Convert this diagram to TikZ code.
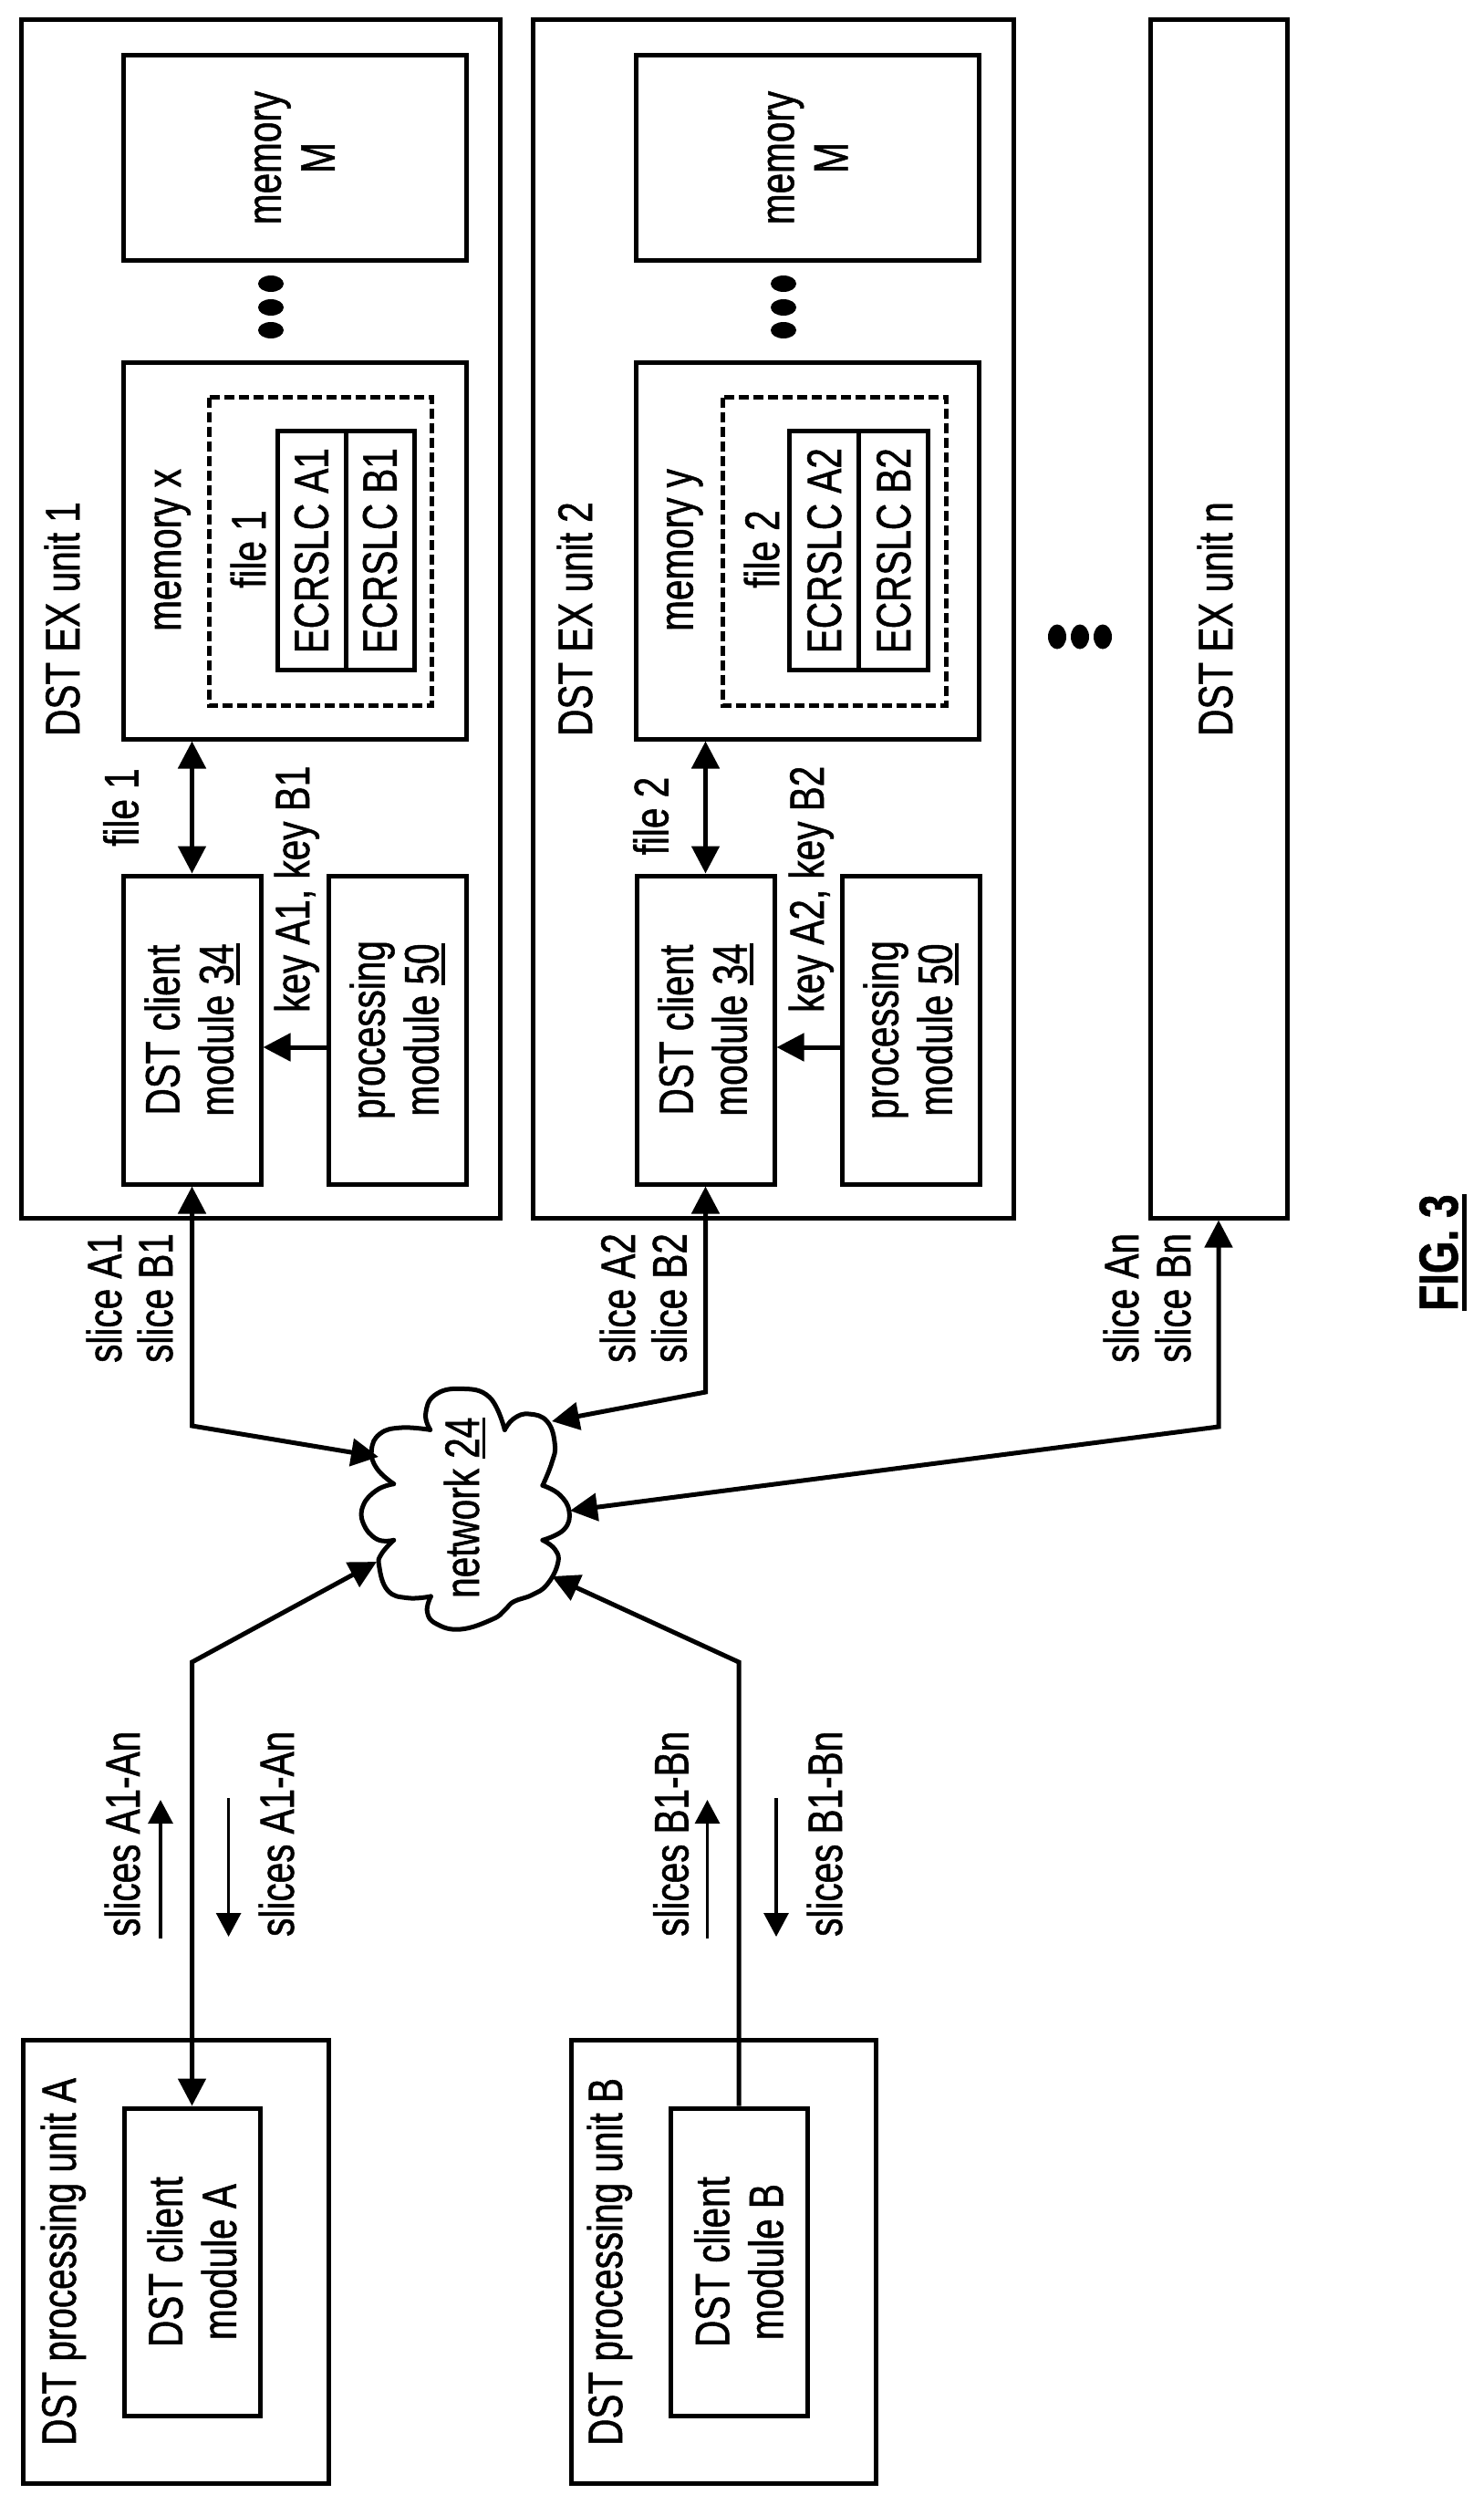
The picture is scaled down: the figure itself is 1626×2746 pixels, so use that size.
\documentclass[tikz,border=0pt]{standalone}
\usepackage{fontspec}
\setmainfont[FakeStretch=0.764,FakeBold=1]{Liberation Sans}
\usetikzlibrary{arrows.meta,shapes.geometric}
\newcommand\ulx[1]{\setbox0=\hbox{#1}\rlap{\rule[-7pt]{\wd0}{3.5pt}}\box0}
\newcommand\ulfig[1]{\setbox0=\hbox{#1}\rlap{\rule[-9.5pt]{\wd0}{5pt}}\box0}
\tikzset{
  base font/.style={font=\fontsize{53}{59}\selectfont},
  bx/.style={draw=black,line width=5pt,inner sep=0pt,rotate=90,align=center,base font},
  dashbx/.style={draw=black,line width=5pt,dash pattern=on 11pt off 5pt,inner sep=0pt,rotate=90},
  lbl/.style={inner sep=0pt,rotate=90,anchor=base west,base font},
  dotn/.style={ellipse,fill=black,inner sep=0pt},
  conn/.style={line width=5pt,line join=miter},
  both/.style={conn,{Triangle[length=30pt,width=30pt]}-{Triangle[length=30pt,width=30pt]}},
  one/.style={conn,-{Triangle[length=30pt,width=30pt]}},
  small/.style={line width=3.2pt,-{Triangle[length=26pt,width=27pt]}},
  cloudline/.style={line width=5pt,line cap=round,line join=round},
}
\begin{document}
\begin{tikzpicture}[x=1pt,y=-1pt]
\useasboundingbox (0,0) rectangle (1626,2746);
\fill[white] (0,0) rectangle (1626,2746);

% --- DST EX unit 1
\node[bx,minimum width=1313pt,minimum height=525pt] (unit1) at (285.5,678.5) {};
\node[bx,minimum width=224.5pt,minimum height=376pt] (memM1) at (323,173) {memory\\M};
\node[bx,minimum width=413pt,minimum height=376pt] (memx) at (323,603.5) {};
\node[dashbx,minimum width=337.4pt,minimum height=244.5pt] (dash1) at (351.25,604.3) {};
\node[bx,minimum width=262pt,minimum height=75pt] (a1) at (341.5,603.6) {ECRSLC A1};
\node[bx,minimum width=262pt,minimum height=75pt] (b1) at (416.5,603.6) {ECRSLC B1};
\node[bx,minimum width=338pt,minimum height=151pt] (client1) at (210.5,1129) {DST client\\module \ulx{34}};
\node[bx,minimum width=338pt,minimum height=151pt] (proc1) at (435.5,1129) {processing\\module \ulx{50}};
\node[lbl] (t1) at (87,807) {DST EX unit 1};
\node[lbl] (mx) at (198,692) {memory x};
\node[lbl] (f1i) at (291,645) {file 1};
\node[lbl] (f1o) at (151.5,928) {file 1};
\node[lbl] (k1) at (339,1110) {key A1, key B1};
\node[dotn,minimum width=28pt,minimum height=18pt] (d11) at (297,311) {};
\node[dotn,minimum width=28pt,minimum height=18pt] (d12) at (297,337) {};
\node[dotn,minimum width=28pt,minimum height=18pt] (d13) at (297,362) {};

% --- DST EX unit 2
\node[bx,minimum width=1313pt,minimum height=527pt] (unit2) at (847.5,678.5) {};
\node[bx,minimum width=224.5pt,minimum height=376pt] (memM2) at (885.5,173) {memory\\M};
\node[bx,minimum width=413pt,minimum height=376pt] (memy) at (885.5,603.5) {};
\node[dashbx,minimum width=337.4pt,minimum height=245pt] (dash2) at (914.5,604.3) {};
\node[bx,minimum width=262pt,minimum height=76pt] (a2) at (903.75,603.6) {ECRSLC A2};
\node[bx,minimum width=262pt,minimum height=76pt] (b2) at (979.75,603.6) {ECRSLC B2};
\node[bx,minimum width=338pt,minimum height=151pt] (client2) at (773.5,1129) {DST client\\module \ulx{34}};
\node[bx,minimum width=338pt,minimum height=151pt] (proc2) at (998.5,1129) {processing\\module \ulx{50}};
\node[lbl] (t2) at (649,807) {DST EX unit 2};
\node[lbl] (my) at (759.5,692) {memory y};
\node[lbl] (f2i) at (854,645) {file 2};
\node[lbl] (f2o) at (732.5,937.5) {file 2};
\node[lbl] (k2) at (903,1110) {key A2, key B2};
\node[dotn,minimum width=28pt,minimum height=18pt] (d21) at (859,311) {};
\node[dotn,minimum width=28pt,minimum height=18pt] (d22) at (859,337) {};
\node[dotn,minimum width=28pt,minimum height=18pt] (d23) at (859,362) {};

% --- ellipsis and unit n
\node[dotn,minimum width=20pt,minimum height=27pt] (e1) at (1159,698) {};
\node[dotn,minimum width=20pt,minimum height=27pt] (e2) at (1184,698) {};
\node[dotn,minimum width=20pt,minimum height=27pt] (e3) at (1209,698) {};
\node[bx,minimum width=1313pt,minimum height=150pt] (unitn) at (1336,678.5) {};
\node[lbl] (tn) at (1351,807) {DST EX unit n};

% --- processing units
\node[bx,minimum width=486pt,minimum height=334.5pt] (unitA) at (192.75,2479) {};
\node[bx,minimum width=337pt,minimum height=149pt] (clientA) at (210.5,2479.5) {DST client\\module A};
\node[lbl] (tA) at (83,2681) {DST processing unit A};
\node[bx,minimum width=486pt,minimum height=334pt] (unitB) at (793,2479) {};
\node[bx,minimum width=337pt,minimum height=150pt] (clientB) at (810,2479.5) {DST client\\module B};
\node[lbl] (tB) at (682,2681) {DST processing unit B};

% --- network cloud
\begin{scope}[shift={(350pt,-1450pt)},x=0.33333pt,y=-0.33333pt]
\draw[cloudline] plot[smooth,tension=.75] coordinates {(365,352) (350,300) (380,238) (465,217) (560,245) (610,352)};
\draw[cloudline] plot[smooth,tension=.75] coordinates {(610,352) (640,315) (690,300) (750,325) (775,400) (765,460) (735,535)};
\draw[cloudline] plot[smooth,tension=.75] coordinates {(735,535) (790,565) (822,620) (805,680) (735,715)};
\draw[cloudline] plot[smooth,tension=.75] coordinates {(735,715) (775,745) (785,790) (750,860) (700,895) (640,917) (610,945) (570,975) (465,1008) (385,990) (355,950) (367,900)};
\draw[cloudline] plot[smooth,tension=.75] coordinates {(367,900) (290,905) (225,880) (197,800) (205,760) (245,715)};
\draw[cloudline] plot[smooth,tension=.75] coordinates {(245,715) (190,712) (145,660) (145,600) (190,550) (245,530)};
\draw[cloudline] plot[smooth,tension=.75] coordinates {(245,530) (190,480) (172,420) (200,365) (270,345) (365,352)};
\end{scope}
\node[lbl] (net) at (525,1752) {network \ulx{24}};
\coordinate (c1) at (415,1597);
\coordinate (c2) at (605,1558);
\coordinate (cn) at (625,1656);
\coordinate (cA) at (413,1712);
\coordinate (cB) at (605,1728);
\coordinate (bend1) at (210.5,1563);
\coordinate (bend2) at (773.5,1526);
\coordinate (bendn) at (1336,1564);
\coordinate (bendA) at (210.5,1822);
\coordinate (bendB) at (810,1822);

% --- slice labels
\node[lbl] (s1a) at (133,1494) {slice A1};
\node[lbl] (s1b) at (189,1494) {slice B1};
\node[lbl] (s2a) at (696,1494) {slice A2};
\node[lbl] (s2b) at (752.5,1494) {slice B2};
\node[lbl] (sna) at (1248,1494) {slice An};
\node[lbl] (snb) at (1305,1494) {slice Bn};
\node[lbl] (sA1) at (153,2123) {slices A1-An};
\node[lbl] (sA2) at (322,2123) {slices A1-An};
\node[lbl] (sB1) at (754.5,2123) {slices B1-Bn};
\node[lbl] (sB2) at (923,2123) {slices B1-Bn};

% --- figure label
\node[lbl,font=\fontsize{60}{66}\selectfont\bfseries] (fig) at (1598,1437) {\ulfig{FIG. 3}};

% --- connectors
\draw[both] (client1.east) -- (client1.east |- memx.west);
\draw[both] (client2.east) -- (client2.east |- memy.west);
\draw[one] ([yshift=-19pt]proc1.north) -- ([yshift=-19pt]client1.south);
\draw[one] ([yshift=-19pt]proc2.north) -- ([yshift=-19pt]client2.south);
\draw[both] (client1.west) -- (bend1) -- (c1);
\draw[both] (client2.west) -- (bend2) -- (c2);
\draw[both] (unitn.west) -- (bendn) -- (cn);
\draw[both] (clientA.east) -- (bendA) -- (cA);
\draw[one] (clientB.east) -- (bendB) -- (cB);

% --- small direction arrows
\coordinate (ua0) at (176,2125); \coordinate (ua1) at (176,1973);
\coordinate (da0) at (250.6,1971); \coordinate (da1) at (250.6,2123);
\coordinate (ub0) at (775.5,2125); \coordinate (ub1) at (775.5,1973);
\coordinate (db0) at (851,1971); \coordinate (db1) at (851,2123);
\draw[small] (ua0) -- (ua1);
\draw[small] (da0) -- (da1);
\draw[small] (ub0) -- (ub1);
\draw[small] (db0) -- (db1);
\end{tikzpicture}
\end{document}
